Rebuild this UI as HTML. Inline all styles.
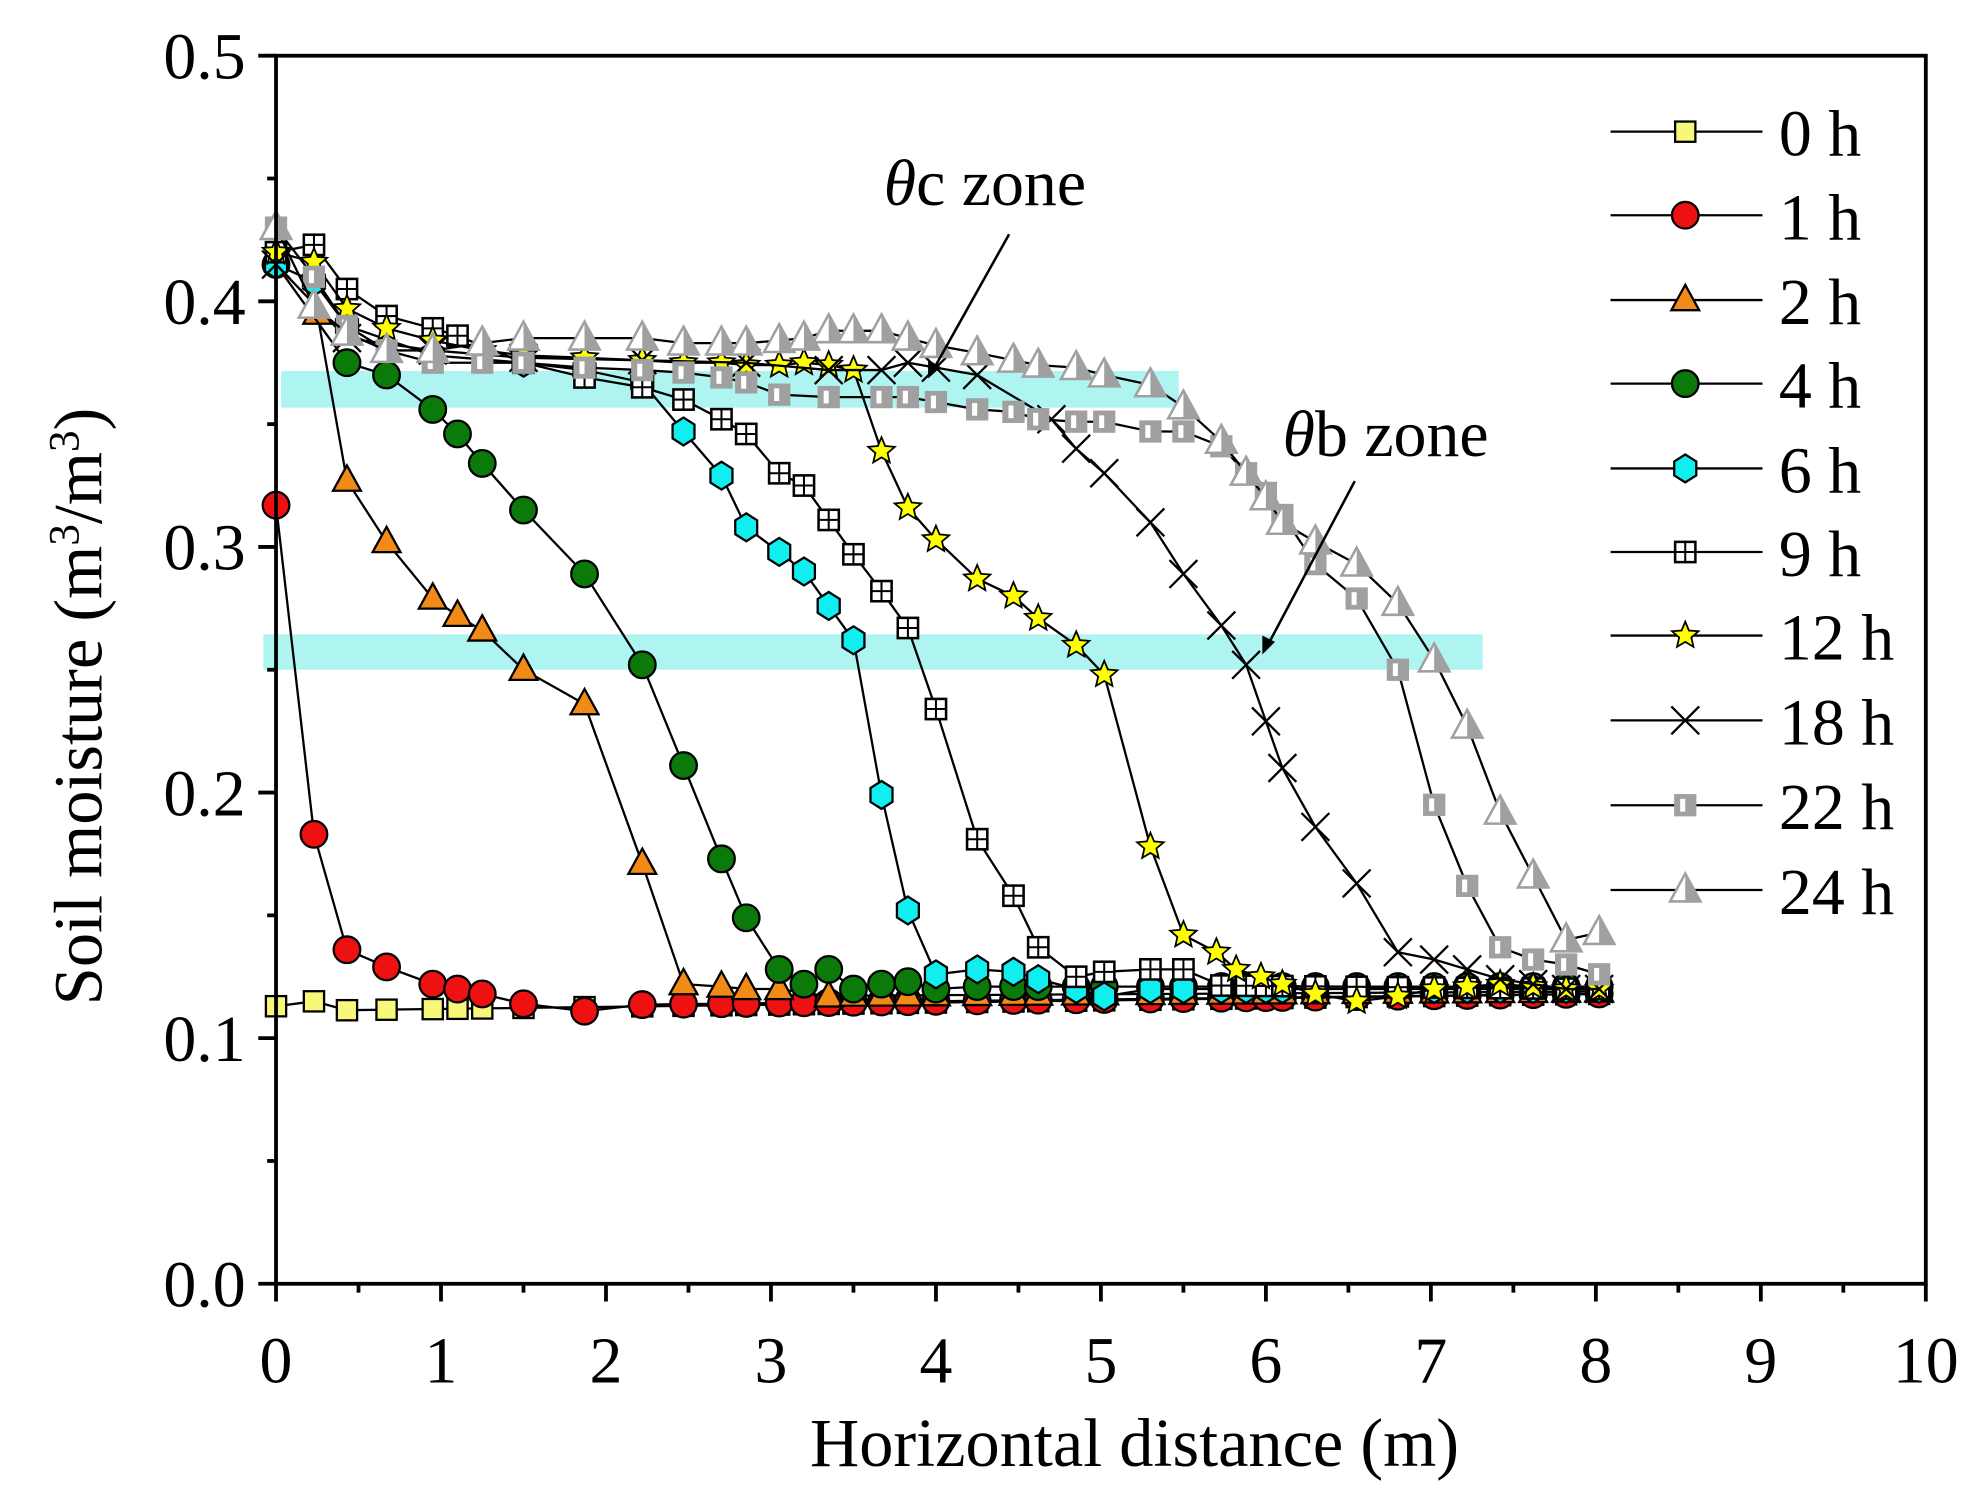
<!DOCTYPE html>
<html><head><meta charset="utf-8"><style>html,body{margin:0;padding:0;background:#fff;}svg{display:block}</style></head>
<body>
<svg id="s" width="1979" height="1499" viewBox="0 0 1563 1184" preserveAspectRatio="none" xmlns="http://www.w3.org/2000/svg" font-family="Liberation Serif, serif">
<rect width="1563" height="1184" fill="#fff"/>
<rect x="222" y="293" width="709" height="29" fill="#aef5f2"/>
<rect x="208" y="501" width="963" height="28" fill="#aef5f2"/>
<g id="series"></g>
<rect x="218" y="44" width="1303" height="970" fill="none" stroke="#000" stroke-width="3"/>
<g id="ticks" stroke="#000" stroke-width="3"></g>
<g id="labels" font-size="52" fill="#000"></g>
<text x="896" y="1158" font-size="54" text-anchor="middle">Horizontal distance (m)</text>
<text transform="translate(80,558) rotate(-90)" font-size="54" text-anchor="middle">Soil moisture (m<tspan dy="-18" font-size="34">3</tspan><tspan dy="18">/m</tspan><tspan dy="-18" font-size="34">3</tspan><tspan dy="18">)</tspan></text>
<text x="698" y="162" font-size="52"><tspan font-style="italic">θ</tspan>c zone</text>
<line x1="797" y1="185" x2="736" y2="294" stroke="#000" stroke-width="2"/>
<polygon points="733,299 733,284 743,290" fill="#000"/>
<text x="1013" y="360" font-size="52"><tspan font-style="italic">θ</tspan>b zone</text>
<line x1="1070" y1="380" x2="1000" y2="512" stroke="#000" stroke-width="2"/>
<polygon points="997,517 997,502 1007,507" fill="#000"/>
<g id="legend"></g>
</svg>
<script>
var X=function(v){return 218+130.3*v},Y=function(m){return 1014-1940*m};
var xs=[0,0.23,0.43,0.67,0.95,1.1,1.25,1.5,1.87,2.22,2.47,2.7,2.85,3.05,3.2,3.35,3.5,3.67,3.83,4,4.25,4.47,4.62,4.85,5.02,5.3,5.5,5.73,5.88,6,6.1,6.3,6.55,6.8,7.02,7.22,7.42,7.62,7.82,8.02];
function fill(head,base0,base1){var r=head.slice();for(var i=0;i<xs.length;i++){var x=xs[i];if(x>head[head.length-1][0]+0.01){r.push([x,base0+(base1-base0)*x/8]);}}return r;}
var S=[];
S.push({m:'sq',c:'#f7f77a',d:fill([[0,0.113],[0.23,0.115]],0.111,0.118)});
S.push({m:'ci',c:'#ee1111',d:fill([[0,0.317],[0.23,0.183],[0.43,0.136],[0.67,0.129],[0.95,0.122],[1.1,0.12],[1.25,0.118],[1.5,0.114],[1.87,0.111]],0.112,0.118)});
S.push({m:'tr',c:'#f28a17',d:fill([[0.25,0.395],[0.43,0.327],[0.67,0.302],[0.95,0.279],[1.1,0.272],[1.25,0.266],[1.5,0.25],[1.87,0.236],[2.22,0.171],[2.47,0.122],[2.7,0.121],[2.85,0.12],[3.05,0.12],[3.35,0.117]],0.116,0.119)});
S.push({m:'ci',c:'#0b7a0b',d:fill([[0,0.415],[0.43,0.375],[0.67,0.37],[0.95,0.356],[1.1,0.346],[1.25,0.334],[1.5,0.315],[1.87,0.289],[2.22,0.252],[2.47,0.211],[2.7,0.173],[2.85,0.149],[3.05,0.128],[3.2,0.122],[3.35,0.128],[3.5,0.12],[3.67,0.122],[3.83,0.123],[4,0.12]],0.121,0.121)});
S.push({m:'hx',c:'#11eef0',d:fill([[0,0.415],[0.23,0.408],[0.43,0.39],[0.95,0.378],[1.5,0.375],[1.87,0.372],[2.22,0.367],[2.47,0.347],[2.7,0.329],[2.85,0.308],[3.05,0.298],[3.2,0.29],[3.35,0.276],[3.5,0.262],[3.67,0.199],[3.83,0.152],[4,0.126],[4.25,0.128],[4.47,0.127],[4.62,0.124],[4.85,0.12],[5.02,0.117],[5.3,0.12]],0.12,0.12)});
S.push({m:'sp',c:'#fff',d:fill([[0,0.42],[0.23,0.423],[0.43,0.405],[0.67,0.394],[0.95,0.389],[1.1,0.386],[1.5,0.375],[1.87,0.369],[2.22,0.365],[2.47,0.36],[2.7,0.352],[2.85,0.346],[3.05,0.33],[3.2,0.325],[3.35,0.311],[3.5,0.297],[3.67,0.282],[3.83,0.267],[4,0.234],[4.25,0.181],[4.47,0.158],[4.62,0.137],[4.85,0.125],[5.02,0.127],[5.3,0.128],[5.5,0.128]],0.125,0.12)});
S.push({m:'st',c:'#ffff00',d:[[0,0.42],[0.23,0.416],[0.43,0.397],[0.67,0.389],[0.95,0.384],[1.25,0.38],[1.5,0.378],[1.87,0.377],[2.22,0.376],[2.47,0.375],[2.7,0.375],[2.85,0.374],[3.05,0.374],[3.2,0.375],[3.35,0.374],[3.5,0.372],[3.67,0.339],[3.83,0.316],[4,0.303],[4.25,0.287],[4.47,0.28],[4.62,0.271],[4.85,0.26],[5.02,0.248],[5.3,0.178],[5.5,0.142],[5.7,0.135],[5.82,0.128],[5.97,0.125],[6.1,0.122],[6.3,0.118],[6.55,0.115],[6.8,0.117],[7.02,0.12],[7.22,0.121],[7.42,0.122],[7.62,0.121],[7.82,0.12],[8.02,0.12]]});
S.push({m:'x',c:'none',d:[[0,0.415],[0.43,0.385],[0.95,0.38],[1.5,0.377],[2.22,0.376],[2.85,0.375],[3.35,0.372],[3.67,0.372],[3.83,0.375],[4,0.373],[4.25,0.37],[4.7,0.352],[4.85,0.34],[5.02,0.33],[5.3,0.31],[5.5,0.289],[5.73,0.268],[5.88,0.252],[6,0.229],[6.1,0.21],[6.3,0.186],[6.55,0.163],[6.8,0.135],[7.02,0.132],[7.22,0.128],[7.42,0.124],[7.62,0.122],[7.82,0.12],[8.02,0.12]]});
S.push({m:'gs',c:'#a0a0a0',d:[[0,0.43],[0.23,0.41],[0.43,0.39],[0.67,0.38],[0.95,0.375],[1.25,0.375],[1.5,0.375],[1.87,0.373],[2.22,0.372],[2.47,0.371],[2.7,0.369],[2.85,0.367],[3.05,0.362],[3.35,0.361],[3.67,0.361],[3.83,0.361],[4,0.359],[4.25,0.356],[4.47,0.355],[4.62,0.352],[4.85,0.351],[5.02,0.351],[5.3,0.347],[5.5,0.347],[5.73,0.341],[5.88,0.33],[6,0.322],[6.1,0.313],[6.3,0.293],[6.55,0.279],[6.8,0.25],[7.02,0.195],[7.22,0.162],[7.42,0.137],[7.62,0.132],[7.82,0.13],[8.02,0.126]]});
S.push({m:'gt',c:'#a0a0a0',d:[[0,0.43],[0.23,0.398],[0.43,0.387],[0.67,0.38],[0.95,0.38],[1.25,0.383],[1.5,0.385],[1.87,0.385],[2.22,0.385],[2.47,0.383],[2.7,0.383],[2.85,0.383],[3.05,0.384],[3.2,0.385],[3.35,0.388],[3.5,0.388],[3.67,0.388],[3.83,0.385],[4,0.382],[4.25,0.379],[4.47,0.376],[4.62,0.374],[4.85,0.373],[5.02,0.37],[5.3,0.366],[5.5,0.357],[5.73,0.343],[5.88,0.33],[6,0.32],[6.1,0.31],[6.3,0.302],[6.55,0.293],[6.8,0.277],[7.02,0.254],[7.22,0.227],[7.42,0.192],[7.62,0.166],[7.82,0.14],[8.02,0.143]]});
function mk(t,c,x,y){var r=10,k='stroke="#000" stroke-width="1.8"';
switch(t){
case 'sq':return '<rect x="'+(x-8)+'" y="'+(y-8)+'" width="16" height="16" fill="'+c+'" '+k+'/>';
case 'ci':return '<circle cx="'+x+'" cy="'+y+'" r="10.5" fill="'+c+'" '+k+'/>';
case 'tr':return '<polygon points="'+x+','+(y-12)+' '+(x+11)+','+(y+8)+' '+(x-11)+','+(y+8)+'" fill="'+c+'" '+k+'/>';
case 'hx':var p=[];for(var i=0;i<6;i++){var a=Math.PI/3*i+Math.PI/2;p.push((x+r*Math.cos(a)).toFixed(1)+','+(y+r*1.1*Math.sin(a)).toFixed(1));}return '<polygon points="'+p.join(' ')+'" fill="'+c+'" '+k+'/>';
case 'sp':return '<rect x="'+(x-8)+'" y="'+(y-8)+'" width="16" height="16" fill="#fff" stroke="#000" stroke-width="2"/><path d="M'+x+' '+(y-8)+'V'+(y+8)+'M'+(x-8)+' '+y+'H'+(x+8)+'" stroke="#000" stroke-width="1.6"/>';
case 'st':var q=[];for(var i=0;i<10;i++){var a=-Math.PI/2+Math.PI/5*i,rr=i%2?5:11;q.push((x+rr*Math.cos(a)).toFixed(1)+','+(y+rr*Math.sin(a)).toFixed(1));}return '<polygon points="'+q.join(' ')+'" fill="'+c+'" stroke="#000" stroke-width="1.4"/>';
case 'x':return '<path d="M'+(x-11)+' '+(y-11)+'L'+(x+11)+' '+(y+11)+'M'+(x-11)+' '+(y+11)+'L'+(x+11)+' '+(y-11)+'" stroke="#000" stroke-width="1.8"/>';
case 'gs':return '<rect x="'+(x-8)+'" y="'+(y-8)+'" width="16" height="16" fill="#a0a0a0" stroke="#a0a0a0" stroke-width="1.6"/><rect x="'+(x-4)+'" y="'+(y-5)+'" width="4" height="10" fill="#fff"/>';
case 'gt':return '<polygon points="'+x+','+(y-13)+' '+(x+12)+','+(y+9)+' '+(x-12)+','+(y+9)+'" fill="#fff" stroke="#a0a0a0" stroke-width="2"/><polygon points="'+x+','+(y-13)+' '+(x+12)+','+(y+9)+' '+x+','+(y+9)+'" fill="#a0a0a0"/>';
}}
var h='';
S.forEach(function(s){var pts=s.d.map(function(p){return X(p[0]).toFixed(1)+','+Y(p[1]).toFixed(1)}).join(' ');
h+='<polyline points="'+pts+'" fill="none" stroke="#000" stroke-width="1.8"/>';
s.d.forEach(function(p){h+=mk(s.m,s.c,X(p[0]),Y(p[1]))});});
document.getElementById('series').innerHTML=h;
var t='',l='';
for(var i=0;i<=20;i++){var v=i*0.5,x=X(v);t+='<line x1="'+x+'" y1="1014" x2="'+x+'" y2="'+(1014+(i%2?7:14))+'"/>';if(i%2==0)l+='<text x="'+x+'" y="1092" text-anchor="middle">'+(v)+'</text>';}
for(var i=0;i<=10;i++){var m=i*0.05,y=Y(m);t+='<line x1="218" y1="'+y+'" x2="'+(218-(i%2?7:14))+'" y2="'+y+'"/>';if(i%2==0)l+='<text x="194" y="'+(y+18)+'" text-anchor="end">'+m.toFixed(1)+'</text>';}
document.getElementById('ticks').innerHTML=t;
var lab=['0 h','1 h','2 h','4 h','6 h','9 h','12 h','18 h','22 h','24 h'],ly=[104,170,237,303,370,436,502,569,636,703],g='';
S.forEach(function(s,i){g+='<line x1="1272" y1="'+ly[i]+'" x2="1392" y2="'+ly[i]+'" stroke="#000" stroke-width="1.8"/>'+mk(s.m,s.c,1331,ly[i]);l+='<text x="1405" y="'+(ly[i]+19)+'" font-size="52">'+lab[i]+'</text>';});
document.getElementById('legend').innerHTML=g;
document.getElementById('labels').innerHTML=l;
</script>
</body></html>
